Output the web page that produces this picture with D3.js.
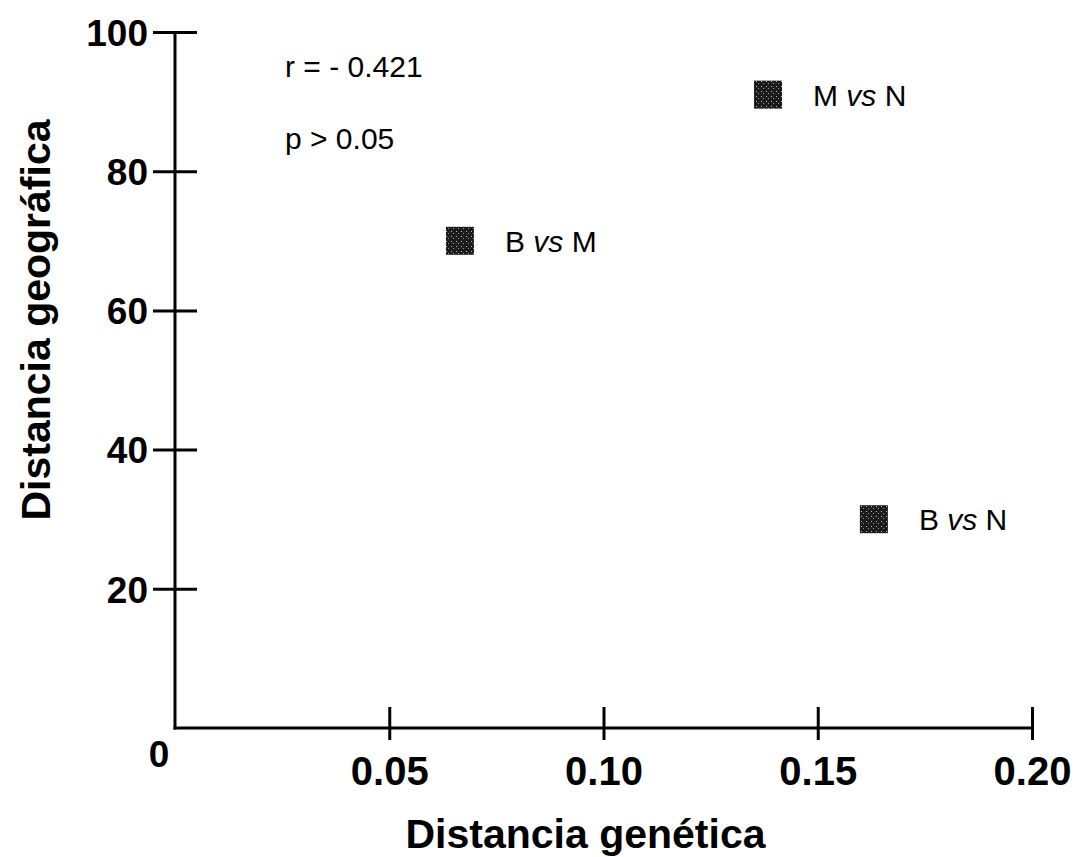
<!DOCTYPE html>
<html>
<head>
<meta charset="utf-8">
<script src="https://cdn.jsdelivr.net/npm/d3@7"></script>
<style>
  html, body { margin: 0; padding: 0; background: #fff; }
  svg text { font-family: "Liberation Sans", Arial, Helvetica, sans-serif; fill: #000; }
</style>
</head>
<body>
<svg id="chart" width="1075" height="857"></svg>
<script>
// data
const pairs = ["B vs M", "M vs N", "B vs N"];
const genetic = [0.0665, 0.1384, 0.1631];
const geographic = [70, 91, 30];

const xTicks = [0.05, 0.10, 0.15, 0.20];
const yTicks = [20, 40, 60, 80, 100];

const stats = ["r = - 0.421", "p > 0.05"];

const svg = d3.select("#chart");

// scales
const x = d3.scaleLinear().domain([0, 0.2]).range([175, 1032]);
const y = d3.scaleLinear().domain([0, 100]).range([728, 32]);

// speckled fill for the markers
const defs = svg.append("defs");
const pat = defs.append("pattern")
    .attr("id", "speckle")
    .attr("patternUnits", "userSpaceOnUse")
    .attr("width", 5).attr("height", 5);
pat.append("rect").attr("width", 5).attr("height", 5).attr("fill", "#1b1b1b");
pat.append("rect").attr("x", 1).attr("y", 1).attr("width", 1).attr("height", 1).attr("fill", "#bbb");
pat.append("rect").attr("x", 3).attr("y", 3).attr("width", 1).attr("height", 1).attr("fill", "#999");

// y axis
const yAxis = svg.append("g")
    .attr("transform", `translate(${x(0)},0)`)
    .call(d3.axisLeft(y).tickValues(yTicks).tickSizeOuter(0).tickSizeInner(22).tickPadding(6));
yAxis.select(".domain").attr("stroke-width", 3).attr("d", `M0,${y(100)}V${y(0) + 1.5}`);
yAxis.selectAll(".tick line").attr("x1", -22).attr("x2", 22).attr("stroke-width", 3);
yAxis.selectAll(".tick text")
    .attr("x", -27)
    .attr("dy", "0.36em")
    .style("font-size", "37px").style("font-weight", "bold");

// x axis
const xAxis = svg.append("g")
    .attr("transform", `translate(0,${y(0)})`)
    .call(d3.axisBottom(x).tickValues(xTicks).tickSizeOuter(0)
        .tickFormat(d3.format(".2f")));
xAxis.select(".domain").attr("stroke-width", 3).attr("d", `M${x(0) - 1.5},0H${x(0.2)}`);
xAxis.selectAll(".tick line").attr("y1", -21).attr("y2", 12).attr("stroke-width", 3);
xAxis.selectAll(".tick text")
    .attr("y", 57).attr("dy", 0)
    .style("font-size", "40px").style("font-weight", "bold");

// the lone origin label
svg.append("text")
    .attr("x", x(0) - 16).attr("y", y(0) + 39)
    .attr("text-anchor", "middle")
    .style("font-size", "37px").style("font-weight", "bold")
    .text("0");

// axis titles
svg.append("text")
    .attr("transform", `translate(50,${(y(0) + y(100)) / 2 - 60}) rotate(-90)`)
    .attr("text-anchor", "middle")
    .style("font-size", "41px").style("font-weight", "bold")
    .text("Distancia geográfica");

svg.append("text")
    .attr("x", (x(0) + x(0.2)) / 2 - 18).attr("y", 848)
    .attr("text-anchor", "middle")
    .style("font-size", "41px").style("font-weight", "bold")
    .text("Distancia genética");

// r and p
svg.selectAll(".stat")
    .data(stats)
    .join("text")
    .attr("class", "stat")
    .attr("x", 285)
    .attr("y", (d, i) => 77 + i * 72)
    .style("font-size", "30px")
    .style("font-weight", "300")
    .text(d => d);

// points
const pts = pairs.map((p, i) => ({ label: p, gx: genetic[i], gy: geographic[i] }));
const size = 28;

const g = svg.append("g").attr("class", "points");
g.selectAll("rect")
    .data(pts)
    .join("rect")
    .attr("x", d => x(d.gx) - size / 2)
    .attr("y", d => y(d.gy) - size / 2)
    .attr("width", size).attr("height", size)
    .attr("fill", "url(#speckle)");

const labels = g.selectAll("text")
    .data(pts)
    .join("text")
    .attr("x", d => x(d.gx) + 45)
    .attr("y", d => y(d.gy) + 11)
    .style("font-size", "30px");
labels.each(function(d) {
    const parts = d.label.split(" ");
    const t = d3.select(this);
    t.append("tspan").text(parts[0] + " ");
    t.append("tspan").style("font-style", "italic").text(parts[1]);
    t.append("tspan").text(" " + parts[2]);
});
</script>
</body>
</html>
